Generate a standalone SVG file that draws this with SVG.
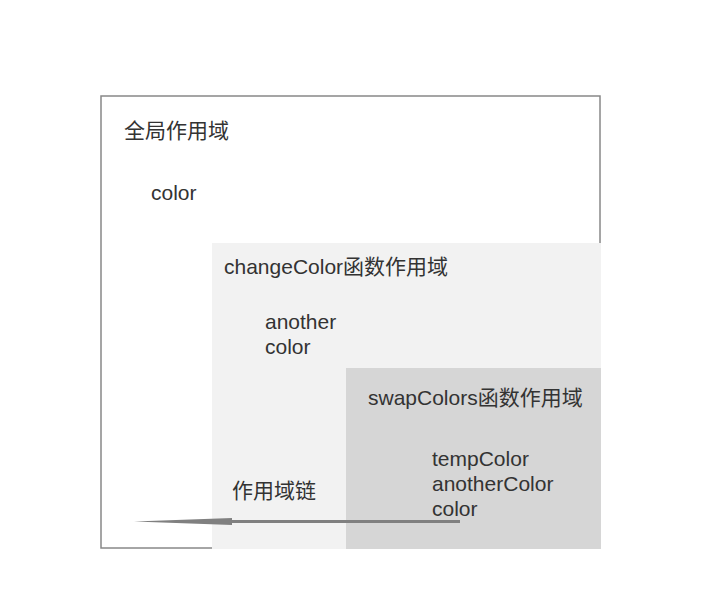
<svg xmlns="http://www.w3.org/2000/svg" width="723" height="597" viewBox="0 0 723 597">
<style>
text{font-family:"Liberation Sans","Noto Sans CJK SC",Arial,sans-serif;font-size:21px;fill:#333}
.link{stroke:#808080;stroke-width:3;fill:none}
.head{fill:#808080}
</style>
<rect width="723" height="597" fill="#fff"/>
<g id="global">
<rect x="101" y="96" width="499" height="452" fill="#fff" stroke="#888" stroke-width="1.5"/>
<text x="124" y="138">全局作用域</text>
<text x="151" y="200">color</text>
</g>
<g id="changeColor">
<rect x="212" y="243" width="389" height="306" fill="#f2f2f2"/>
<text x="224" y="274">changeColor函数作用域</text>
<text x="265" y="329">another</text>
<text x="265" y="354">color</text>
</g>
<g id="swapColors">
<rect x="346" y="368" width="255" height="181" fill="#d6d6d6"/>
<text x="368" y="405">swapColors函数作用域</text>
<text x="432" y="466">tempColor</text>
<text x="432" y="491">anotherColor</text>
<text x="432" y="516">color</text>
</g>
<g id="connectors">
<path class="link" d="M460,521.5 L232,521.5"/>
<path class="head" d="M134,521.5 L232,518 L232,525 Z"/>
<text x="232" y="498">作用域链</text>
</g>
</svg>
